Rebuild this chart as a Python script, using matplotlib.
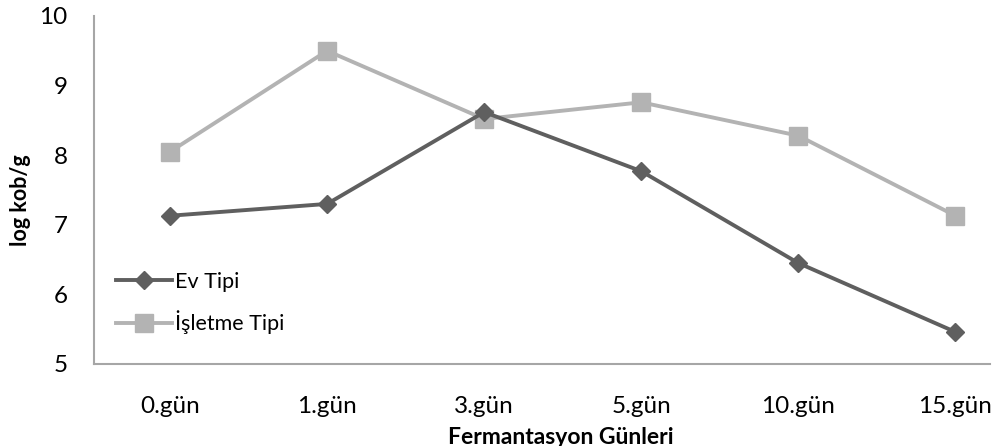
import numpy as np
import matplotlib
matplotlib.use("Agg")
import matplotlib.pyplot as plt

# fermentation days and log counts for the two production types
gunler = ["0.gün", "1.gün", "3.gün", "5.gün", "10.gün", "15.gün"]
ev_tipi = [7.13, 7.30, 8.62, 7.77, 6.45, 5.46]
isletme_tipi = [8.05, 9.50, 8.52, 8.76, 8.28, 7.13]

plt.rcParams['font.family'] = ['Lato', 'DejaVu Sans']

fig = plt.figure(figsize=(9.98, 4.46), dpi=100)
ax = fig.add_axes([94/998, 1-364/446, (990-94)/998, (364-16)/446])

x = np.arange(len(gunler))
ax.plot(x, ev_tipi, color='#5f5f5f', lw=2.8, marker='D', ms=9,
        label="Ev Tipi", zorder=3)
ax.plot(x, isletme_tipi, color='#b3b3b3', lw=2.8, marker='s', ms=13,
        label="İşletme Tipi", zorder=2)

ax.set_xlim(-0.484, 5.22)
ax.set_ylim(5, 10)
ax.set_yticks([5, 6, 7, 8, 9, 10])
ax.set_xticks(x)
ax.set_xticklabels(gunler)
ax.tick_params(length=0, labelsize=17.5, colors='#000000')
ax.tick_params(axis='y', pad=19)
ax.tick_params(axis='x', pad=23)

for s in ['top', 'right']:
    ax.spines[s].set_visible(False)
for s in ['left', 'bottom']:
    ax.spines[s].set_color('#a6a6a6')
    ax.spines[s].set_linewidth(1.5)

fig.text(21/998, 1-200/446, "log kob/g", rotation=90, ha='center', va='center',
         fontsize=15.5, fontweight='bold')
fig.text(561/998, 1-427/446, "Fermantasyon Günleri", ha='center', va='top',
         fontsize=16.5, fontweight='bold')

ax.legend(loc='center left', bbox_to_anchor=(116/998, 1-303/446),
          bbox_transform=fig.transFigure, frameon=False, fontsize=15.5,
          handlelength=2.6, handletextpad=0.15, labelspacing=0.85,
          borderpad=0, borderaxespad=0)

fig.savefig("out.png", dpi=100)
